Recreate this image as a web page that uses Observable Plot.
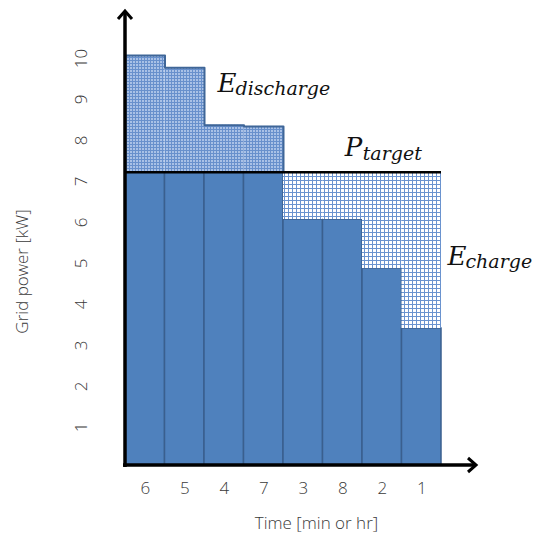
<!DOCTYPE html>
<html>
<head>
<meta charset="utf-8">
<script src="https://cdn.jsdelivr.net/npm/d3@7"></script>
<script src="https://cdn.jsdelivr.net/npm/@observablehq/plot@0.6"></script>
<style>
  html, body { margin: 0; padding: 0; background: white; }
  #chart { width: 536px; height: 537px; }
</style>
</head>
<body>
<svg width="0" height="0" style="position:absolute">
  <defs>
    <pattern id="dischargeFill" width="3" height="3" patternUnits="userSpaceOnUse">
      <rect width="3" height="3" fill="#6890cc"></rect>
      <rect x="1" y="1" width="2" height="2" fill="#a9c1e6"></rect>
    </pattern>
    <pattern id="chargeFill" width="4" height="4" patternUnits="userSpaceOnUse">
      <rect width="4" height="4" fill="#ffffff"></rect>
      <rect width="4" height="1" fill="#6a93cf"></rect>
      <rect width="1" height="4" fill="#6a93cf"></rect>
    </pattern>
  </defs>
</svg>
<div id="chart"></div>
<script>
// ---- data ----
const categories = ["6", "5", "4", "7", "3", "8", "2", "1"];
const power = [10.0, 9.7, 8.3, 8.27, 6.0, 6.0, 4.8, 3.34];
const target = 7.15;
const yTicks = [1, 2, 3, 4, 5, 6, 7, 8, 9, 10];
const xTitle = "Time [min or hr]";
const yTitle = "Grid power [kW]";
const mathLabels = [
  {x: 2.33, y: 9.32, main: "E", sub: "discharge"},
  {x: 5.55, y: 7.74, main: "P", sub: "target"},
  {x: 8.15, y: 5.1, main: "E", sub: "charge"}
];

const rows = categories.map((c, i) => ({cat: c, i, v: power[i]}));
const over = rows.filter(d => d.v > target);
const under = rows.filter(d => d.v < target);
const stepPts = over.map(d => ({x: d.i, y: d.v}))
  .concat([{x: over[over.length - 1].i + 1, y: target}]);

const textColor = "#3a3a3a";
const mathFont = "DejaVu Serif";

const chart = Plot.plot({
  width: 536,
  height: 537,
  marginLeft: 125,
  marginRight: 95,
  marginTop: 55,
  marginBottom: 72,
  x: {domain: [0, categories.length], axis: null},
  y: {domain: [0, 10], axis: null},
  style: {background: "white", fontFamily: "Open Sans"},
  marks: [
    // solid part of each bar (up to target)
    Plot.rectY(rows, {x1: d => d.i, x2: d => d.i + 1, y1: 0, y2: d => Math.min(d.v, target),
      fill: "#4f81bd", stroke: "#3a5f8e", strokeWidth: 1.5}),
    // discharge area (above target)
    Plot.rectY(over, {x1: d => d.i, x2: d => d.i + 1, y1: target, y2: d => d.v,
      fill: "url(#dischargeFill)"}),
    // charge area (below target)
    Plot.rectY(under, {x1: d => d.i, x2: d => d.i + 1, y1: d => d.v, y2: target,
      fill: "url(#chargeFill)"}),
    // discharge outline
    Plot.line(stepPts, {x: "x", y: "y", curve: "step-after", stroke: "#3f6698", strokeWidth: 2}),
    // target line
    Plot.ruleY([target], {x1: 0, x2: categories.length, stroke: "black", strokeWidth: 2.5}),
    // tick labels
    Plot.text(yTicks, {y: d => d, text: d => String(d), frameAnchor: "left", dx: -44, dy: 3, rotate: -90,
      textAnchor: "middle", lineAnchor: "middle", fontSize: 17, fill: textColor, fontWeight: 300}),
    Plot.text(rows, {x: d => d.i + 0.5, text: "cat", frameAnchor: "bottom", dy: 23,
      textAnchor: "middle", lineAnchor: "middle", fontSize: 17, fill: textColor, fontWeight: 300}),
    // axis titles
    Plot.text([yTitle], {text: d => d, frameAnchor: "left", dx: -103, dy: 11, rotate: -90,
      textAnchor: "middle", lineAnchor: "middle", fontSize: 17, fill: textColor, fontWeight: 300}),
    Plot.text([xTitle], {text: d => d, frameAnchor: "bottom", dx: 33, dy: 58,
      textAnchor: "middle", lineAnchor: "middle", fontSize: 17, fill: textColor, fontWeight: 300}),
    // math labels
    Plot.text(mathLabels, {x: "x", y: "y", text: "main", textAnchor: "start", lineAnchor: "middle",
      fontFamily: mathFont, fontStyle: "italic", fontSize: 26, fill: "#111"}),
    Plot.text(mathLabels, {x: "x", y: "y", text: "sub", textAnchor: "start", lineAnchor: "middle", dx: 18, dy: 6,
      fontFamily: mathFont, fontStyle: "italic", fontSize: 19, fill: "#111"})
  ]
});

document.getElementById("chart").appendChild(chart);

// axis lines with arrowheads (decoration)
const xs = chart.scale("x"), ys = chart.scale("y");
const x0 = xs.apply(0), y0 = ys.apply(0);
const svg = d3.select(chart);
const g = svg.append("g").attr("fill", "none").attr("stroke", "black").attr("stroke-width", 3.5);
g.append("path").attr("d", `M${x0},${y0 + 2}V11`);
g.append("path").attr("d", `M${x0 - 7},19L${x0},11L${x0 + 7},19`).attr("stroke-width", 3);
g.append("path").attr("d", `M${x0 - 2},${y0}H476`);
g.append("path").attr("d", `M468,${y0 - 7}L476,${y0}L468,${y0 + 7}`).attr("stroke-width", 3);
</script>
</body>
</html>
